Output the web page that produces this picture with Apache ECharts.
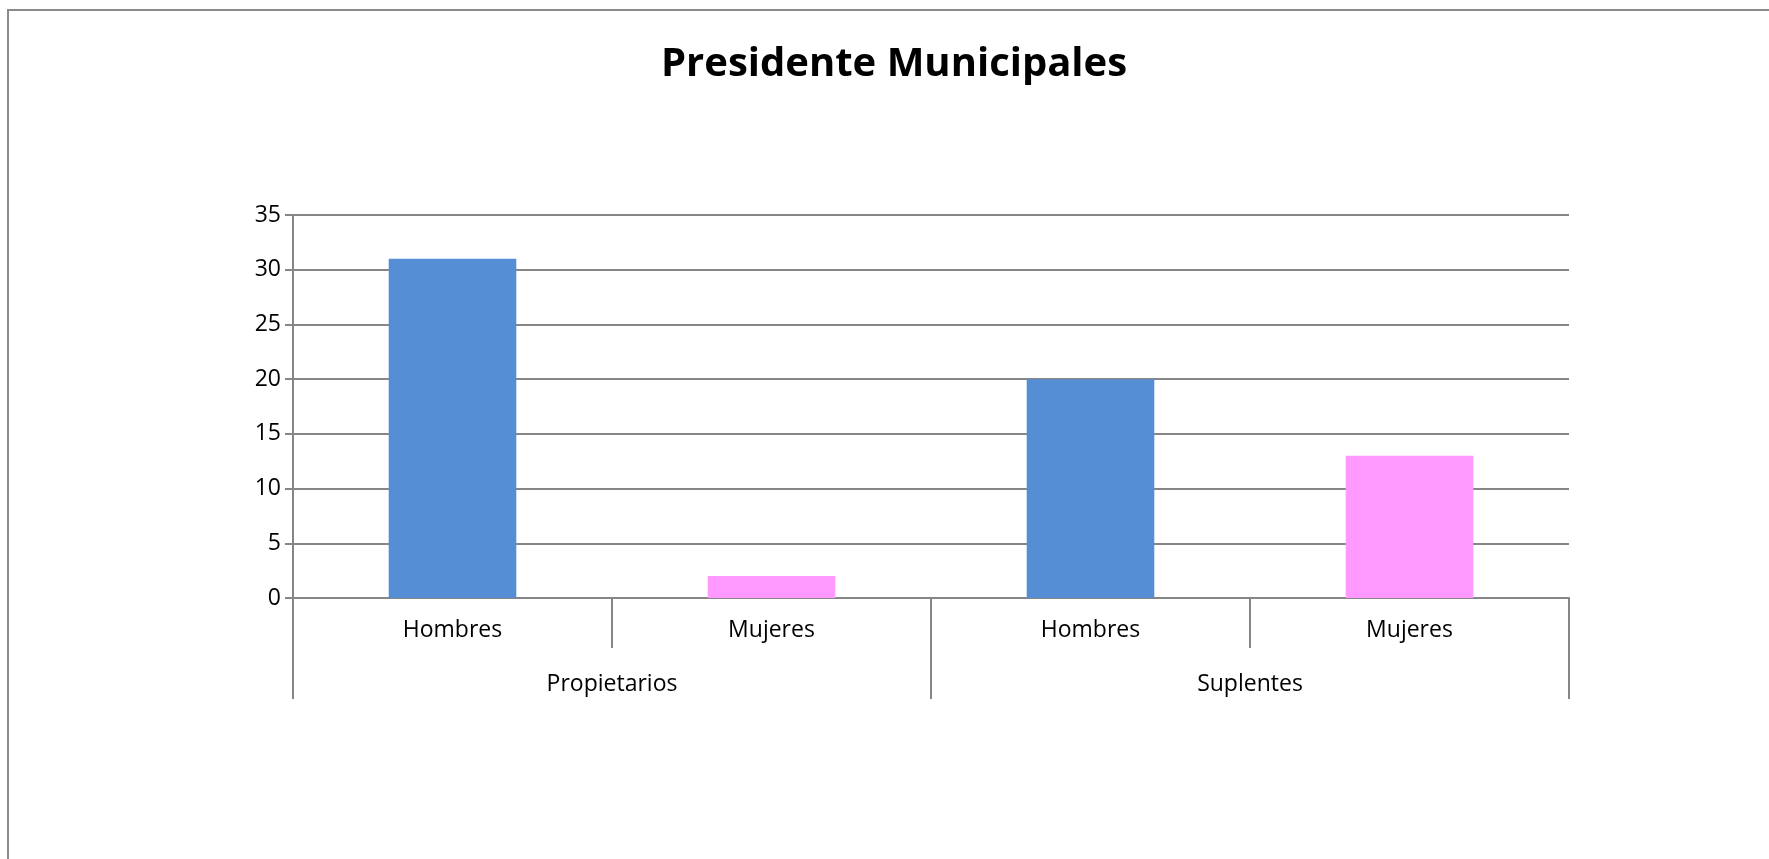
<!DOCTYPE html>
<html>
<head>
<meta charset="utf-8">
<script src="https://cdn.jsdelivr.net/npm/echarts@6/dist/echarts.min.js"></script>
<style>
html,body{margin:0;padding:0;background:#fff;}
#c{width:1769px;height:859px;}
</style>
</head>
<body>
<div id="c"></div>
<script>
const titleText = 'Presidente Municipales';
const categories = ['Hombres', 'Mujeres', 'Hombres', 'Mujeres'];
const groups = ['Propietarios', 'Suplentes'];
const values = [31, 2, 20, 13];
const barColors = ['#558ED5', '#FF99FF', '#558ED5', '#FF99FF'];
const yTicks = [0, 5, 10, 15, 20, 25, 30, 35];

const chart = echarts.init(document.getElementById('c'));
const axisGray = '#868686';
const font = 'Open Sans, Noto Sans, sans-serif';
chart.setOption({
  animation: false,
  backgroundColor: '#fff',
  graphic: [{
    type: 'rect',
    shape: { x: 8, y: 10, width: 1800, height: 900 },
    style: { fill: 'none', stroke: '#8a8a8a', lineWidth: 2 },
    silent: true
  }],
  title: {
    text: titleText,
    left: 656,
    top: 40,
    textStyle: { fontFamily: font, fontSize: 40, fontWeight: 'bold', color: '#000' }
  },
  grid: { left: 293, right: 200, top: 215, bottom: 261, containLabel: false },
  xAxis: [{
    type: 'category',
    data: categories,
    position: 'bottom',
    axisLine: { lineStyle: { color: axisGray, width: 2 } },
    axisTick: { show: true, interval: 0, length: 50, lineStyle: { color: axisGray, width: 2 } },
    axisLabel: { interval: 0, margin: 21, fontFamily: font, fontSize: 23, color: '#000' }
  }, {
    type: 'category',
    data: groups,
    position: 'bottom',
    axisLine: { show: false },
    axisTick: { show: true, interval: 0, length: 101, lineStyle: { color: axisGray, width: 2 } },
    axisLabel: { interval: 0, margin: 75, fontFamily: font, fontSize: 23, color: '#000' }
  }],
  yAxis: {
    type: 'value',
    min: yTicks[0],
    max: yTicks[yTicks.length - 1],
    interval: 5,
    axisLine: { show: true, lineStyle: { color: axisGray, width: 2 } },
    axisTick: { show: true, length: 8, lineStyle: { color: axisGray, width: 2 } },
    axisLabel: { margin: 12, fontFamily: font, fontSize: 23, color: '#000' },
    splitLine: { show: true, lineStyle: { color: axisGray, width: 2 } }
  },
  series: [{
    type: 'bar',
    xAxisIndex: 0,
    barWidth: '40%',
    data: values.map((v, i) => ({ value: v, itemStyle: { color: barColors[i] } }))
  }]
});
</script>
</body>
</html>
